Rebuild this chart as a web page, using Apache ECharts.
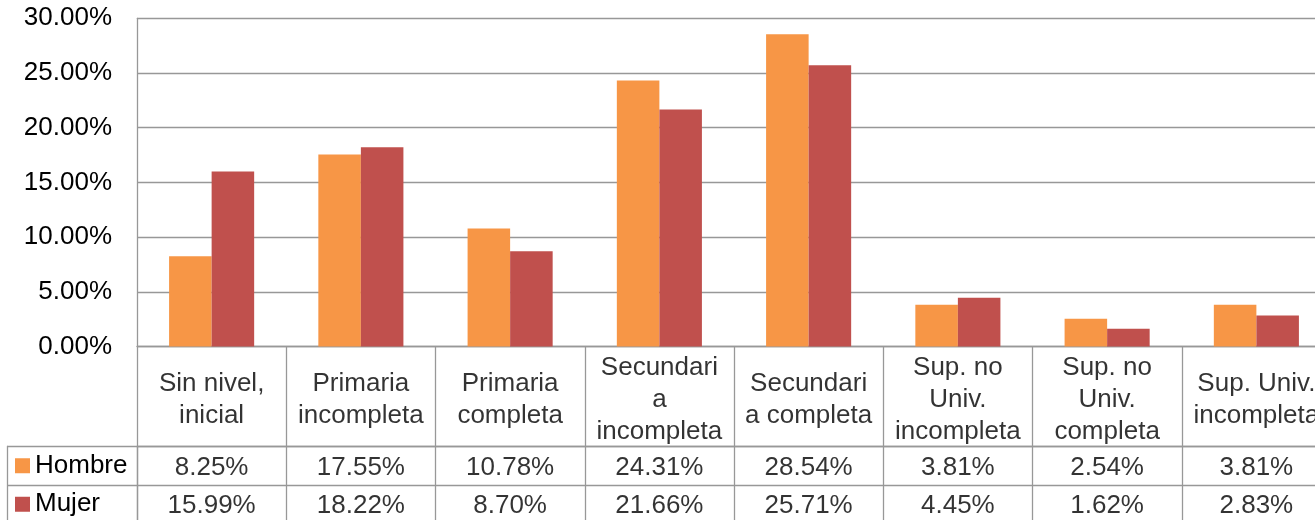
<!DOCTYPE html>
<html>
<head>
<meta charset="utf-8">
<script src="https://cdn.jsdelivr.net/npm/echarts@6/dist/echarts.min.js"></script>
<style>
html,body{margin:0;padding:0;background:#fff;}
#c{width:1315px;height:520px;}
</style>
</head>
<body>
<div id="c"></div>
<script>
var categories = ['Sin nivel,\ninicial', 'Primaria\nincompleta', 'Primaria\ncompleta', 'Secundari\na\nincompleta', 'Secundari\na completa', 'Sup. no\nUniv.\nincompleta', 'Sup. no\nUniv.\ncompleta', 'Sup. Univ.\nincompleta'];
var seriesNames = ['Hombre', 'Mujer'];
var hombre = [0.0825, 0.1755, 0.1078, 0.2431, 0.2854, 0.0381, 0.0254, 0.0381];
var mujer = [0.1599, 0.1822, 0.0870, 0.2166, 0.2571, 0.0445, 0.0162, 0.0283];
var colors = ['#F79646', '#C0504D'];

var FONT = 'Liberation Sans, Arial, sans-serif';
var FS = 26;
var LINE = '#989898';
var LW = 1.3;
function pct(v){ return (v*100).toFixed(2) + '%'; }

var chart = echarts.init(document.getElementById('c'));
var L = 137, W = 1194;
var tableCells = [];
[hombre, mujer].forEach(function(arr, r){
  arr.forEach(function(v, i){ tableCells.push({value:[i, r], txt: pct(v)}); });
});
var labelCells = categories.map(function(c, i){ return {value:[i, 0.5], txt:c}; });

chart.setOption({
  animation:false,
  textStyle:{fontFamily:FONT},
  grid:[
    {left:L, width:W, top:18.3, height:328.2, outerBoundsMode:'none', containLabel:false},
    {left:L, width:W, top:346.5, height:100, outerBoundsMode:'none', containLabel:false},
    {left:L, width:W, top:446.5, height:77, outerBoundsMode:'none', containLabel:false}
  ],
  xAxis:[
    {type:'category', gridIndex:0, data:categories, axisLine:{show:true, lineStyle:{color:LINE, width:LW}}, axisTick:{show:false}, axisLabel:{show:false}, splitLine:{show:false}},
    {type:'category', gridIndex:1, data:categories, axisLine:{show:true, lineStyle:{color:LINE, width:LW}}, axisTick:{show:false}, axisLabel:{show:false}, splitLine:{show:true, lineStyle:{color:LINE, width:LW}}},
    {type:'category', gridIndex:2, data:categories, axisLine:{show:false}, axisTick:{show:false}, axisLabel:{show:false}, splitLine:{show:true, lineStyle:{color:LINE, width:LW}}}
  ],
  yAxis:[
    {type:'value', gridIndex:0, min:0, max:0.30, interval:0.05,
     axisLine:{show:true, lineStyle:{color:LINE, width:LW}}, axisTick:{show:false},
     axisLabel:{formatter:pct, fontSize:FS, color:'#000', margin:25, fontFamily:FONT},
     splitLine:{show:true, lineStyle:{color:LINE, width:LW}}},
    {type:'value', gridIndex:1, min:0, max:1, show:true, axisLine:{show:false}, axisTick:{show:false}, axisLabel:{show:false}, splitLine:{show:false}},
    {type:'category', gridIndex:2, data:seriesNames, inverse:true,
     axisLine:{show:true, lineStyle:{color:LINE, width:LW}},
     axisTick:{show:true, length:130, lineStyle:{color:LINE, width:LW}},
     axisLabel:{align:'left', margin:122, fontFamily:FONT,
       formatter:function(v){ return '{s' + seriesNames.indexOf(v) + '|}{t|' + v + '}'; },
       rich:{
         s0:{backgroundColor:colors[0], width:15, height:15},
         s1:{backgroundColor:colors[1], width:15, height:15},
         t:{fontSize:FS, color:'#000', padding:[0,0,0,5], fontFamily:FONT}
       }},
     splitLine:{show:true, lineStyle:{color:LINE, width:LW}}},
    {type:'category', gridIndex:2, data:seriesNames, inverse:true, position:'left', offset:130,
     axisLine:{show:true, lineStyle:{color:LINE, width:LW}}, axisTick:{show:false}, axisLabel:{show:false}}
  ],
  series:[
    {name:seriesNames[0], type:'bar', xAxisIndex:0, yAxisIndex:0, data:hombre, barGap:'0%', barCategoryGap:'43%', itemStyle:{color:colors[0]}},
    {name:seriesNames[1], type:'bar', xAxisIndex:0, yAxisIndex:0, data:mujer, barGap:'0%', barCategoryGap:'43%', itemStyle:{color:colors[1]}},
    {type:'scatter', xAxisIndex:1, yAxisIndex:1, symbolSize:0, data:labelCells, silent:true,
     label:{show:true, position:'inside', offset:[0,3], formatter:function(p){return p.data.txt;}, fontSize:FS, lineHeight:32, color:'#000', fontFamily:FONT, align:'center', verticalAlign:'middle'}},
    {type:'scatter', xAxisIndex:2, yAxisIndex:2, symbolSize:0, data:tableCells, silent:true,
     label:{show:true, position:'inside', offset:[0,2], formatter:function(p){return p.data.txt;}, fontSize:FS, color:'#000', fontFamily:FONT, align:'center', verticalAlign:'middle'}}
  ]
});
</script>
</body>
</html>
